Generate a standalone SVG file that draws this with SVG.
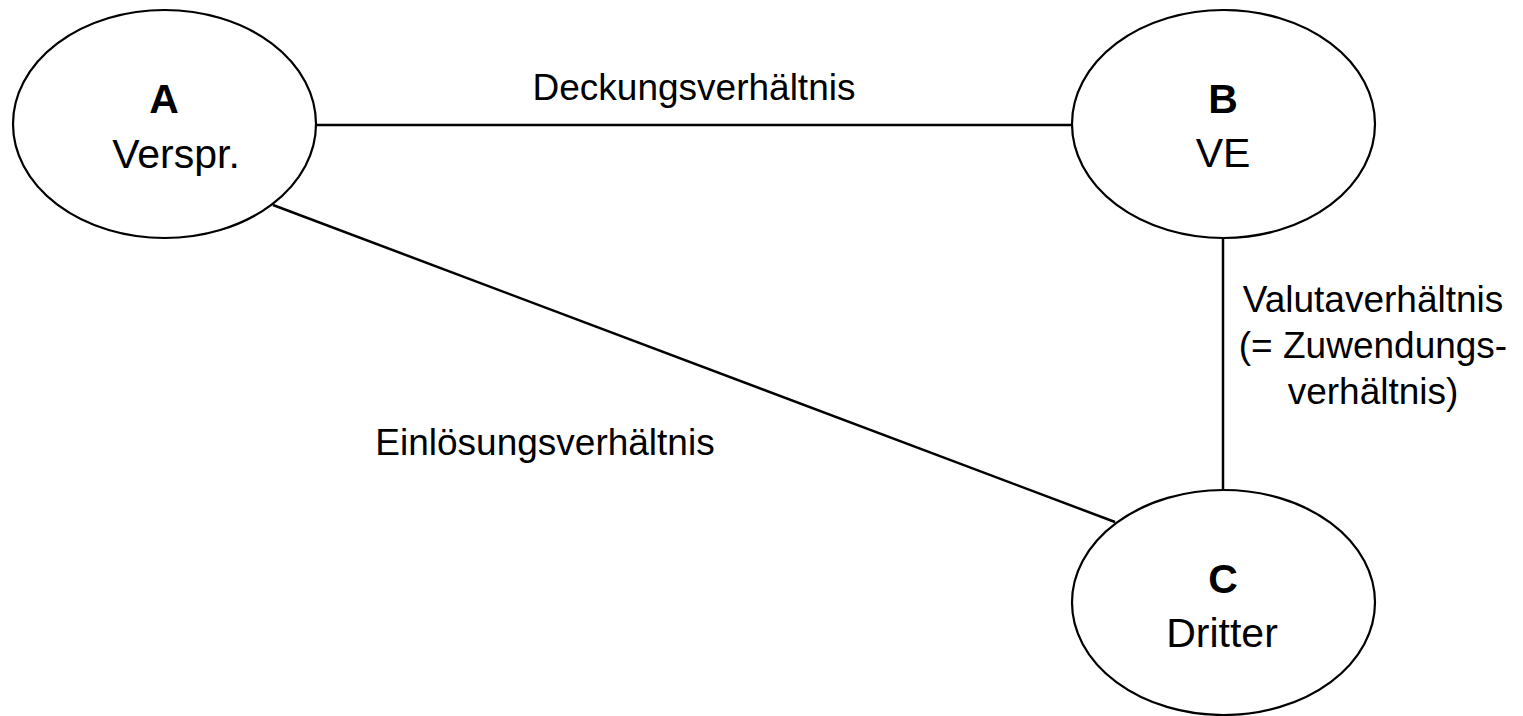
<svg xmlns="http://www.w3.org/2000/svg" width="1523" height="716" viewBox="0 0 1523 716">
<style>
.node{fill:#fff;stroke:#000;stroke-width:2.2}
.edge{stroke:#000;stroke-width:2.5;fill:none}
text{font-family:"Liberation Sans",Arial,sans-serif;fill:#000;text-anchor:middle}
.t{font-size:41px;font-weight:bold}
.s{font-size:41px}
.l{font-size:37px}
</style>
<rect width="1523" height="716" fill="#fff"/>
<g id="connectors">
<line class="edge" x1="316" y1="125" x2="1072" y2="125"/>
<line class="edge" x1="1223" y1="238" x2="1223" y2="490"/>
<line class="edge" x1="273" y1="205" x2="1115" y2="522"/>
</g>
<g id="labels">
<text class="l" x="694" y="100">Deckungsverhältnis</text>
<text class="l" x="545" y="455">Einlösungsverhältnis</text>
<text class="l" x="1373" y="312">Valutaverhältnis</text>
<text class="l" x="1373" y="358">(= Zuwendungs-</text>
<text class="l" x="1373" y="404">verhältnis)</text>
</g>
<g id="nodeA">
<ellipse class="node" cx="164.5" cy="124" rx="151.5" ry="114"/>
<text class="t" x="164" y="113">A</text>
<text class="s" x="176" y="168">Verspr.</text>
</g>
<g id="nodeB">
<ellipse class="node" cx="1223.5" cy="124" rx="151.5" ry="114"/>
<text class="t" x="1223" y="113">B</text>
<text class="s" x="1223" y="167">VE</text>
</g>
<g id="nodeC">
<ellipse class="node" cx="1223.5" cy="602.5" rx="151.5" ry="112.5"/>
<text class="t" x="1223" y="593">C</text>
<text class="s" x="1222" y="647">Dritter</text>
</g>
</svg>
